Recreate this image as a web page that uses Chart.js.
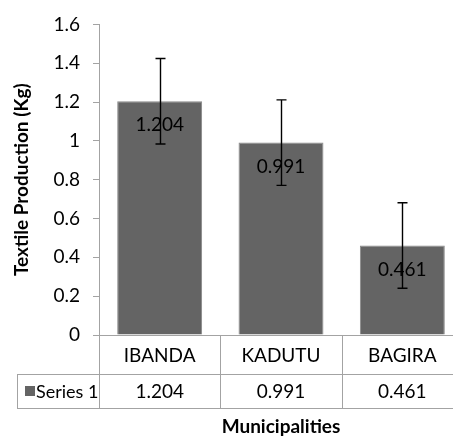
<!DOCTYPE html>
<html>
<head>
<meta charset="utf-8">
<script src="https://cdn.jsdelivr.net/npm/chart.js@4.4.0/dist/chart.umd.min.js"></script>
<style>
  html, body { margin: 0; padding: 0; background: #fff; overflow: hidden; }
</style>
</head>
<body>
<canvas id="chart" width="464" height="441"></canvas>
<script>
// data
const municipalities = ["IBANDA", "KADUTU", "BAGIRA"];
const production = [1.204, 0.991, 0.461];
const errorBars = [0.22, 0.22, 0.22];
const seriesName = "Series 1";
const yMin = 0, yMax = 1.6, yStep = 0.2;

const BAR = "#646464";
const LINE = "#a3a3a3";
const FONT = "Lato";
const SIZE = 19;

// error bars, value labels and the data table under the axis
const extras = {
  id: "extras",
  afterDatasetsDraw(chart) {
    const { ctx, scales: { x, y } } = chart;
    const bars = chart.getDatasetMeta(0).data;
    ctx.save();

    ctx.font = `${SIZE}px ${FONT}`;
    ctx.fillStyle = "#000";
    ctx.textAlign = "center";
    ctx.textBaseline = "middle";
    bars.forEach((bar, i) => {
      ctx.fillText(production[i].toFixed(3), bar.x, bar.y + 24);
    });

    ctx.strokeStyle = "#000";
    ctx.lineWidth = 1.4;
    bars.forEach((bar, i) => {
      const top = y.getPixelForValue(production[i] + errorBars[i]);
      const bot = y.getPixelForValue(production[i] - errorBars[i]);
      const cx = Math.round(bar.x) + 0.5;
      ctx.beginPath();
      ctx.moveTo(cx, top); ctx.lineTo(cx, bot);
      ctx.moveTo(cx - 5, top); ctx.lineTo(cx + 5, top);
      ctx.moveTo(cx - 5, bot); ctx.lineTo(cx + 5, bot);
      ctx.stroke();
    });

    // table
    const step = x.width / municipalities.length;
    const r0 = Math.round(y.bottom);
    const r1 = r0 + 39;
    const r2 = r1 + 34;
    const left = 17;
    ctx.strokeStyle = LINE;
    ctx.lineWidth = 1;
    ctx.beginPath();
    ctx.moveTo(left, r1 + 0.5); ctx.lineTo(x.right, r1 + 0.5);
    ctx.moveTo(left, r2 + 0.5); ctx.lineTo(x.right, r2 + 0.5);
    ctx.moveTo(left + 0.5, r1); ctx.lineTo(left + 0.5, r2);
    for (let k = 0; k <= municipalities.length; k++) {
      const vx = Math.round(x.left + k * step) + 0.5;
      ctx.moveTo(vx, r0); ctx.lineTo(vx, r2);
    }
    ctx.stroke();

    ctx.fillStyle = "#000";
    municipalities.forEach((name, i) => {
      const cx = x.getPixelForValue(i);
      ctx.fillText(name, cx, (r0 + r1) / 2 + 1);
      ctx.fillText(production[i].toFixed(3), cx, (r1 + r2) / 2 + 1);
    });

    ctx.fillStyle = BAR;
    ctx.fillRect(25, (r1 + r2) / 2 - 5, 10, 10);
    ctx.fillStyle = "#000";
    ctx.textAlign = "left";
    ctx.font = `18px ${FONT}`;
    ctx.fillText(seriesName, 36, (r1 + r2) / 2 + 1);

    ctx.restore();
  }
};

new Chart(document.getElementById("chart"), {
  type: "bar",
  data: {
    labels: municipalities,
    datasets: [{
      label: seriesName,
      data: production,
      backgroundColor: BAR,
      borderColor: "#888",
      borderWidth: 1,
      categoryPercentage: 1,
      barPercentage: 0.7
    }]
  },
  options: {
    responsive: false,
    animation: false,
    layout: { padding: { top: 16, right: 1, bottom: 0, left: 0 } },
    plugins: { legend: { display: false }, tooltip: { enabled: false } },
    scales: {
      x: {
        grid: { display: false },
        border: { color: LINE, width: 1 },
        ticks: { display: false },
        title: {
          display: true,
          text: "Municipalities",
          color: "#000",
          font: { family: FONT, size: SIZE, weight: "bold" },
          padding: { top: 0, bottom: 3 }
        },
        afterFit(s) { s.height = 106; }
      },
      y: {
        min: yMin,
        max: yMax,
        ticks: {
          stepSize: yStep,
          color: "#000",
          padding: 13,
          font: { family: FONT, size: SIZE },
          callback: (v) => String(+v.toFixed(1))
        },
        grid: { drawOnChartArea: false, drawTicks: true, tickLength: 6, color: LINE },
        border: { color: LINE, width: 1 },
        title: {
          display: true,
          text: "Textile Production (Kg)",
          color: "#000",
          font: { family: FONT, size: SIZE, weight: "bold" },
          padding: { top: 10, bottom: 0 }
        },
        afterFit(s) { s.width = 99; }
      }
    }
  },
  plugins: [extras]
});
</script>
</body>
</html>
